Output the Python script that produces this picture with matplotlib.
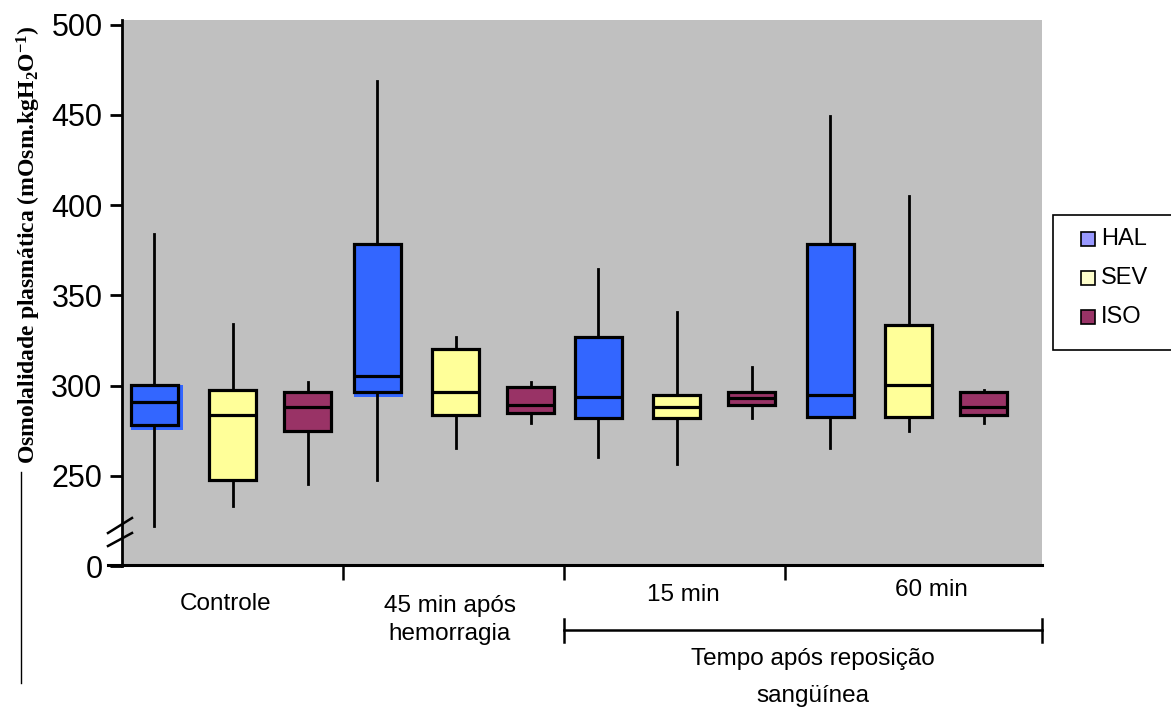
import matplotlib
matplotlib.use("Agg")
import matplotlib.pyplot as plt
from matplotlib.patches import Rectangle
from matplotlib.lines import Line2D

plt.rcParams["mathtext.fontset"] = "custom"
plt.rcParams["mathtext.rm"] = "Liberation Serif:bold"
plt.rcParams["mathtext.bf"] = "Liberation Serif:bold"
plt.rcParams["mathtext.it"] = "Liberation Serif:bold"

# ---------------- data ----------------
groups = ["Controle", "45 min após\nhemorragia", "15 min", "60 min"]
series = ["HAL", "SEV", "ISO"]

hal_whislo = [222, 247.6, 260.6, 265.2]
hal_q1     = [278.2, 296.3, 282.2, 282.4]
hal_med    = [290.6, 305.0, 293.5, 294.8]
hal_q3     = [300.4, 378.3, 326.8, 378.2]
hal_whishi = [384, 468.9, 364.4, 449.4]

sev_whislo = [233.3, 265.2, 256.7, 275.0]
sev_q1     = [247.6, 283.7, 282.2, 282.4]
sev_med    = [283.9, 296.3, 288.0, 300.4]
sev_q3     = [297.6, 320.0, 294.8, 333.7]
sev_whishi = [334.0, 327.0, 340.9, 404.8]

iso_whislo = [245.7, 279.4, 281.8, 279.4]
iso_q1     = [275.0, 285.0, 289.0, 283.7]
iso_med    = [288.0, 289.3, 292.8, 288.0]
iso_q3     = [296.3, 299.0, 296.5, 296.3]
iso_whishi = [301.8, 301.8, 310.2, 297.6]

ytick_values = [200, 250, 300, 350, 400, 450, 500]
ytick_labels = ["0", "250", "300", "350", "400", "450", "500"]

box_colors = ["#3366FF", "#FFFF99", "#993366"]
legend_colors = ["#9999FF", "#FFFFCC", "#993366"]

# ---------------- layout ----------------
W, H = 1171, 708
fig = plt.figure(figsize=(W / 100, H / 100), dpi=100)
ax_l, ax_r, ax_t, ax_b = 122, 1042, 20, 566
ax = fig.add_axes([ax_l / W, 1 - ax_b / H, (ax_r - ax_l) / W, (ax_b - ax_t) / H])
ax.set_facecolor("#C0C0C0")

xmax = (ax_r - ax_l) / 221.0
ymin, ymax = 200, 502.5
ax.set_xlim(0, xmax)
ax.set_ylim(ymin, ymax)
px_x = xmax / (ax_r - ax_l)
px_y = (ymax - ymin) / (ax_b - ax_t)

group_centers = [0.5, 1.51, 2.51, 3.56]
offsets = [-0.355, 0.0, 0.34]
box_w = 0.213

all_stats = [
    (hal_whislo, hal_q1, hal_med, hal_q3, hal_whishi),
    (sev_whislo, sev_q1, sev_med, sev_q3, sev_whishi),
    (iso_whislo, iso_q1, iso_med, iso_q3, iso_whishi),
]

for si, (wl, q1, md, q3, wh) in enumerate(all_stats):
    stats = []
    pos = []
    for gi in range(len(groups)):
        stats.append(dict(whislo=wl[gi], q1=q1[gi], med=md[gi], q3=q3[gi],
                          whishi=wh[gi], fliers=[]))
        pos.append(group_centers[gi] + offsets[si])
    ax.bxp(stats, positions=pos, widths=box_w, showcaps=False,
           showfliers=False, patch_artist=True,
           boxprops=dict(facecolor=box_colors[si], edgecolor="black", linewidth=2.3),
           whiskerprops=dict(color="black", linewidth=2.0),
           medianprops=dict(color="black", linewidth=2.3),
           zorder=3)
    if si == 0:
        # blue offset "shadow" visible behind the first two HAL boxes
        for gi in (0, 1):
            p = pos[gi]
            ax.add_patch(Rectangle((p - box_w / 2, q1[gi] - 5 * px_y),
                                   box_w + (5 if gi == 0 else 2) * px_x,
                                   q3[gi] - q1[gi] + 5 * px_y,
                                   facecolor=box_colors[0], edgecolor="none",
                                   zorder=2))

# spines
for s in ("top", "right"):
    ax.spines[s].set_visible(False)
ax.spines["left"].set_linewidth(2)
ax.spines["bottom"].set_visible(False)

# y ticks
ax.set_yticks(ytick_values)
ax.set_yticklabels(ytick_labels, fontsize=22, family="Liberation Sans")
ax.tick_params(axis="y", length=9, width=2, pad=5, direction="out")

# x ticks (group separators)
ax.set_xticks([1, 2, 3])
ax.set_xticklabels([])
ax.tick_params(axis="x", length=10, width=1.8, direction="out")

# bottom axis line extending left
fig.add_artist(Line2D([108 / W, ax_r / W], [1 - 565 / H, 1 - 565 / H],
                      color="black", linewidth=2.2))

# axis break marks
for (x0, y0, x1, y1) in [(108, 533, 132, 518), (108, 546, 132, 533)]:
    fig.add_artist(Line2D([x0 / W, x1 / W], [1 - y0 / H, 1 - y1 / H],
                          color="black", linewidth=1.8))

# y label
fig.text(29 / W, 1 - 245 / H,
         r"Osmolalidade plasmática (mOsm.kgH$_\mathbf{2}$O$^\mathbf{-1}$)",
         rotation=90, ha="center", va="center", fontsize=17,
         family="Liberation Serif", fontweight="bold")
fig.add_artist(Line2D([21 / W, 21 / W], [1 - 472 / H, 1 - 683 / H],
                      color="black", linewidth=1.0))

# category labels
sans = "Liberation Sans"
fs = 17.5
fig.text(226 / W, 1 - 604 / H, groups[0], ha="center", va="center", fontsize=fs, family=sans)
fig.text(450 / W, 1 - 620 / H, groups[1], ha="center", va="center", fontsize=fs,
         family=sans, linespacing=1.3)
fig.text(683 / W, 1 - 595 / H, groups[2], ha="center", va="center", fontsize=fs, family=sans)
fig.text(931 / W, 1 - 590 / H, groups[3], ha="center", va="center", fontsize=fs, family=sans)

# bracket for reposição
fig.add_artist(Line2D([564 / W, 1042 / W], [1 - 630 / H, 1 - 630 / H], color="black", linewidth=1.8))
for xb in (564, 1042):
    fig.add_artist(Line2D([xb / W, xb / W], [1 - 619 / H, 1 - 642 / H], color="black", linewidth=1.8))
fig.text(813 / W, 1 - 659 / H, "Tempo após reposição", ha="center", va="center",
         fontsize=fs, family=sans)
fig.text(813 / W, 1 - 696 / H, "sangüínea", ha="center", va="center",
         fontsize=fs, family=sans)

# legend (manual)
fig.add_artist(Rectangle((1053 / W, 1 - 350 / H), (1175 - 1053) / W, (350 - 215) / H,
                         facecolor="white", edgecolor="black", linewidth=1.2,
                         transform=fig.transFigure))
for i, name in enumerate(series):
    yc = [239, 278, 317][i]
    fig.add_artist(Rectangle((1081 / W, 1 - (yc + 7) / H), 14 / W, 14 / H,
                             facecolor=legend_colors[i], edgecolor="black",
                             linewidth=1.2, transform=fig.transFigure))
    fig.text(1101 / W, 1 - yc / H, name, ha="left", va="center", fontsize=17, family=sans)

fig.savefig("out.png", dpi=100)
